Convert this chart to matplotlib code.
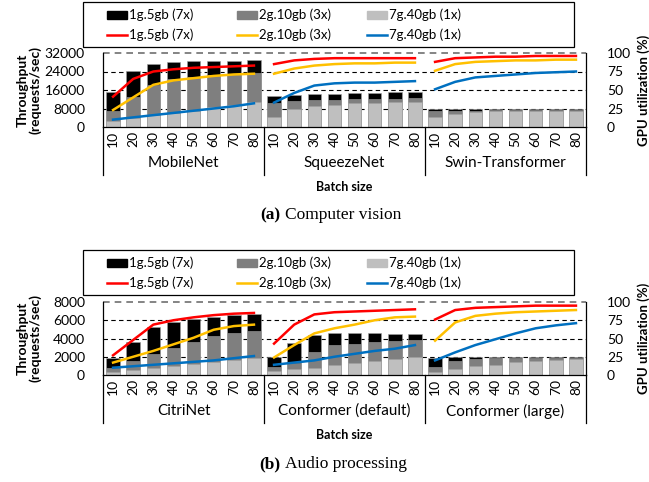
import numpy as np
import matplotlib
matplotlib.use("Agg")
import matplotlib.pyplot as plt
from matplotlib.patches import Patch, Rectangle
from matplotlib.lines import Line2D

plt.rcParams['font.family'] = ['Lato', 'DejaVu Sans']

batch_sizes = ["10", "20", "30", "40", "50", "60", "70", "80"]
series_names = ["1g.5gb (7x)", "2g.10gb (3x)", "7g.40gb (1x)"]
bar_colors = ["#000000", "#7f7f7f", "#bfbfbf"]
line_colors = ["#ff0000", "#ffc000", "#0070c0"]

# (a) computer vision
cv_models = ["MobileNet", "SqueezeNet", "Swin-Transformer"]
cv_tput_1g = [15200, 24100, 27200, 28100, 28400, 28600, 28600, 28900,
              13500, 13800, 14100, 14300, 14500, 14800, 15000, 15000,
              8000, 8000, 8000, 8000, 8000, 8000, 8000, 8000]
cv_tput_2g = [6900, 12800, 18100, 20600, 21500, 22300, 23000, 23200,
              10200, 11200, 11700, 11700, 12100, 12100, 12300, 12400,
              6900, 6900, 7100, 7300, 7300, 7300, 7300, 7300]
cv_tput_7g = [2600, 4000, 5200, 6200, 7000, 8500, 9500, 10900,
              4500, 7600, 9200, 9500, 10200, 10500, 10800, 10900,
              4500, 5600, 6500, 6900, 7000, 7000, 7000, 7000]
cv_util_1g = [41, 65, 75, 78, 80, 81, 82, 83,
              85, 90, 92, 93, 93, 93, 93, 93,
              88, 93, 94, 95, 95, 96, 96, 96]
cv_util_2g = [23, 40, 57, 63, 66, 69, 71, 72,
              72, 79, 83, 85, 86, 86, 87, 87,
              76, 85, 88, 89, 90, 90, 91, 91]
cv_util_7g = [10, 13, 16, 19, 22, 25, 28, 32,
              33, 46, 56, 59, 60, 60, 61, 62,
              51, 61, 67, 69, 71, 73, 74, 75]

# (b) audio processing
ap_models = ["CitriNet", "Conformer (default)", "Conformer (large)"]
ap_tput_1g = [1830, 3580, 5230, 5840, 6140, 6390, 6580, 6690,
              2010, 3540, 4380, 4570, 4570, 4570, 4490, 4490,
              1830, 2010, 2010, 2010, 2010, 2010, 2010, 2010]
ap_tput_2g = [730, 1530, 2260, 2920, 3650, 4310, 4640, 4820,
              910, 1350, 2560, 3290, 3400, 3650, 3760, 3840,
              840, 1530, 1750, 1830, 1850, 1850, 1870, 1870]
ap_tput_7g = [360, 550, 730, 990, 1210, 1460, 1640, 1830,
              470, 620, 800, 1100, 1350, 1570, 1750, 1940,
              370, 620, 990, 1100, 1460, 1570, 1640, 1720]
ap_util_1g = [27, 48, 69, 75, 79, 82, 84, 85,
              43, 69, 83, 86, 87, 88, 89, 90,
              76, 89, 92, 93, 94, 95, 95, 95]
ap_util_2g = [17, 25, 33, 42, 51, 62, 67, 69,
              24, 41, 57, 64, 69, 75, 79, 80,
              47, 72, 81, 84, 86, 87, 88, 89]
ap_util_7g = [10, 12, 14, 16, 18, 20, 23, 26,
              14, 17, 20, 25, 29, 33, 36, 41,
              20, 31, 41, 49, 57, 64, 68, 71]

W, H = 649, 482
fig = plt.figure(figsize=(W / 100, H / 100), dpi=100)


def fx(px):
    return px / W


def fy(py):
    return 1 - py / H


def draw_legend(box_top):
    # frame box, then one legend per column so columns sit where the reference has them
    box = Rectangle((fx(83), fy(box_top + 45)), fx(574) - fx(83), 45 / H,
                    transform=fig.transFigure, fill=False, ec="black", lw=0.9)
    fig.add_artist(box)
    for i, col_x in enumerate([107, 237, 367]):
        handles = [Patch(color=bar_colors[i]),
                   Line2D([], [], color=line_colors[i], lw=1.8)]
        fig.legend(handles, [series_names[i], series_names[i]], loc='center left',
                   bbox_to_anchor=(fx(col_x), fy(box_top + 23)), frameon=False,
                   fontsize=9.5, handlelength=1.55, handleheight=0.6,
                   handletextpad=0.15, labelspacing=0.55, borderpad=0,
                   borderaxespad=0)


def draw_panel(top, bottom, ymax, yticks, models, tputs, utils, leg_top,
               tag, caption, cap_y):
    ax = fig.add_axes([fx(103), fy(bottom), fx(586) - fx(103), fy(top) - fy(bottom)])
    x = np.arange(24)
    for vals, c in zip(tputs, bar_colors):
        ax.bar(x, vals, width=0.67, color=c, edgecolor="#a0a0a0", linewidth=0.4, zorder=2)
    ax.set_xlim(-0.5, 23.5)
    ax.set_ylim(0, ymax)
    ax.set_yticks(yticks)
    ax.set_yticklabels([str(t) for t in yticks])
    for t in yticks[1:-1]:
        ax.axhline(t, color="black", ls=(0, (4, 3)), lw=0.8, zorder=1)
    ax.axhline(ymax, color="#707070", ls=(0, (4, 3)), lw=1.2, zorder=1, clip_on=False)
    ax.spines['top'].set_visible(False)
    for s in ['left', 'right', 'bottom']:
        ax.spines[s].set_linewidth(0.9)
    ax.set_xticks(x)
    ax.set_xticklabels(batch_sizes * 3, rotation=90, fontsize=10)
    ax.tick_params(axis='x', length=0, pad=3)
    ax.tick_params(axis='y', length=0, pad=13, labelsize=10)

    ax2 = ax.twinx()
    ax2.set_ylim(0, 100)
    ax2.set_yticks([0, 25, 50, 75, 100])
    ax2.tick_params(axis='y', length=0, pad=15, labelsize=10)
    for s in ax2.spines.values():
        s.set_visible(False)
    for g in range(3):
        xs = x[g * 8:(g + 1) * 8]
        for vals, c in zip(utils, line_colors):
            ax2.plot(xs, vals[g * 8:(g + 1) * 8], color=c, lw=1.8, zorder=3)

    trans = ax.get_xaxis_transform()
    h = bottom - top
    sep = -(48 / h)
    for b in [-0.5, 7.5, 15.5, 23.5]:
        ax.plot([b, b], [0, sep], transform=trans, color="black", lw=0.9, clip_on=False)
    for g, name in enumerate(models):
        ax.text(g * 8 + 3.5, -(36 / h), name, transform=trans, ha='center', va='center',
                fontsize=11)
    ax.text(11.5, -(60 / h), "Batch size", transform=trans, ha='center', va='center',
            fontsize=9, weight='bold')

    ax.set_ylabel("Throughput\n(requests/sec)", fontsize=10, weight='bold', linespacing=1.0)
    ax.yaxis.set_label_coords(-0.128, 0.5)
    ax2.set_ylabel("GPU utilization (%)", fontsize=9.5, weight='bold')
    ax2.yaxis.set_label_coords(1.106, 0.5)

    draw_legend(leg_top)

    fig.text(fx(280), fy(cap_y), tag, ha='right', va='center', fontsize=12.5,
             weight='bold', family='Liberation Serif')
    fig.text(fx(285), fy(cap_y), caption, ha='left', va='center', fontsize=12.5,
             family='Liberation Serif')


draw_panel(53, 127, 32000, [0, 8000, 16000, 24000, 32000], cv_models,
           [cv_tput_1g, cv_tput_2g, cv_tput_7g], [cv_util_1g, cv_util_2g, cv_util_7g],
           2, "(a)", "Computer vision", 215)
draw_panel(302, 375, 8000, [0, 2000, 4000, 6000, 8000], ap_models,
           [ap_tput_1g, ap_tput_2g, ap_tput_7g], [ap_util_1g, ap_util_2g, ap_util_7g],
           250, "(b)", "Audio processing", 464)

fig.savefig("out.png", dpi=100)
